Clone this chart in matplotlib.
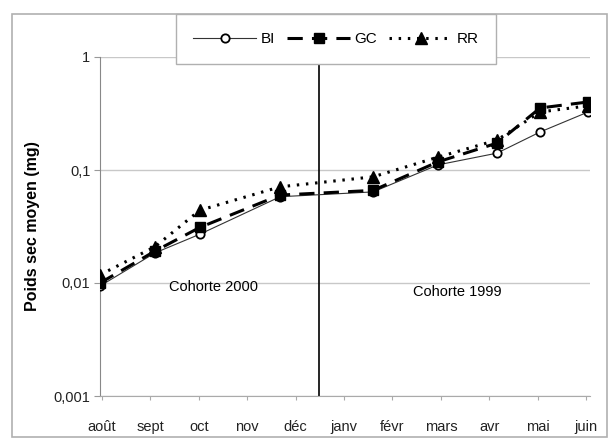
"""Plot mean dry weight per month for the three sites (log scale)."""

import matplotlib
matplotlib.use('Agg')
import matplotlib.pyplot as plt
from matplotlib.lines import Line2D
from matplotlib.patches import Rectangle

months = ['août', 'sept', 'oct', 'nov', 'déc', 'janv', 'févr', 'mars',
          'avr', 'mai', 'juin']
# sampling dates, in months from the start of août
sample_pos = [-0.04, 1.1, 2.02, 3.68, 5.6, 6.94, 8.16, 9.05, 10.04]
bi_values = [0.0094, 0.0185, 0.027, 0.058, 0.064, 0.111, 0.141, 0.217, 0.326]
gc_values = [0.0100, 0.0192, 0.031, 0.060, 0.066, 0.118, 0.173, 0.354, 0.400]
rr_values = [0.0118, 0.0210, 0.044, 0.071, 0.087, 0.130, 0.184, 0.326, 0.370]
y_ticks = [0.001, 0.01, 0.1, 1]
y_tick_labels = ['0,001', '0,01', '0,1', '1']
cohort_split = 4.48


def main():
  plt.rcParams['font.family'] = ['Liberation Sans', 'DejaVu Sans']
  fig = plt.figure(figsize=(6.1, 4.42), dpi=100)
  ax = fig.add_axes([100 / 610, 46 / 442, 490 / 610, 339 / 442])

  # outer chart frame
  fig.patches.append(Rectangle((12 / 610, 5 / 442), 595 / 610, 423 / 442,
                               transform=fig.transFigure, fill=False,
                               edgecolor='#b0b0b0', linewidth=1.2))

  ax.plot(sample_pos, bi_values, color='#333333', linewidth=0.8,
          marker='o', markersize=6, markerfacecolor='white',
          markeredgecolor='black', markeredgewidth=1.3, label='BI', zorder=3)
  ax.plot(sample_pos, gc_values, color='black', linewidth=2.2,
          linestyle=(0, (5, 3)), marker='s', markersize=7,
          markerfacecolor='black', label='GC', zorder=4)
  ax.plot(sample_pos, rr_values, color='black', linewidth=2.2,
          linestyle=(0, (0.8, 2.2)), marker='^', markersize=8,
          markerfacecolor='black', label='RR', zorder=5)

  ax.axvline(cohort_split, color='black', linewidth=1.2, zorder=2)

  ax.set_yscale('log')
  ax.set_ylim(0.001, 1)
  ax.set_xlim(-0.04, 10.08)
  ax.set_yticks(y_ticks)
  ax.set_yticklabels(y_tick_labels)
  ax.minorticks_off()
  ax.set_xticks(range(len(months)))
  ax.set_xticklabels(months)
  ax.tick_params(axis='both', labelsize=10.5, colors='#222222', length=4,
                 width=0.8)
  ax.tick_params(axis='x', color='#aaaaaa', length=3, pad=14)
  ax.tick_params(axis='y', color='#999999', pad=3)

  ax.grid(axis='y', color='#c8c8c8', linewidth=1)
  ax.set_axisbelow(True)
  for side in ['top', 'right']:
    ax.spines[side].set_visible(False)
  ax.spines['left'].set_color('#888888')
  ax.spines['bottom'].set_color('#aaaaaa')

  ax.set_ylabel('Poids sec moyen (mg)', fontsize=11.5, fontweight='bold',
                labelpad=10)

  ax.text(2.31, 0.0092, 'Cohorte 2000', ha='center', va='center', fontsize=10.5)
  ax.text(7.33, 0.0083, 'Cohorte 1999', ha='center', va='center', fontsize=10.5)

  handles = [
      Line2D([], [], color='#333333', linewidth=0.8, marker='o', markersize=6,
             markerfacecolor='white', markeredgecolor='black',
             markeredgewidth=1.3),
      Line2D([], [], color='black', linewidth=2.2, linestyle=(0, (5, 3)),
             marker='s', markersize=7),
      Line2D([], [], color='black', linewidth=2.2,
             linestyle=(0, (0.8, 2.2)), marker='^', markersize=8),
  ]
  leg = fig.legend(handles, ['BI', 'GC', 'RR'], loc='center',
                   bbox_to_anchor=(336 / 610, 1 - 39 / 442), ncol=3,
                   fontsize=11, handlelength=4.1, handletextpad=0.3,
                   columnspacing=0.8, fancybox=False, framealpha=1,
                   edgecolor='#b0b0b0', borderpad=1.15)
  leg.get_frame().set_linewidth(1.0)

  fig.savefig('out.png', dpi=100)


if __name__ == '__main__':
  main()
